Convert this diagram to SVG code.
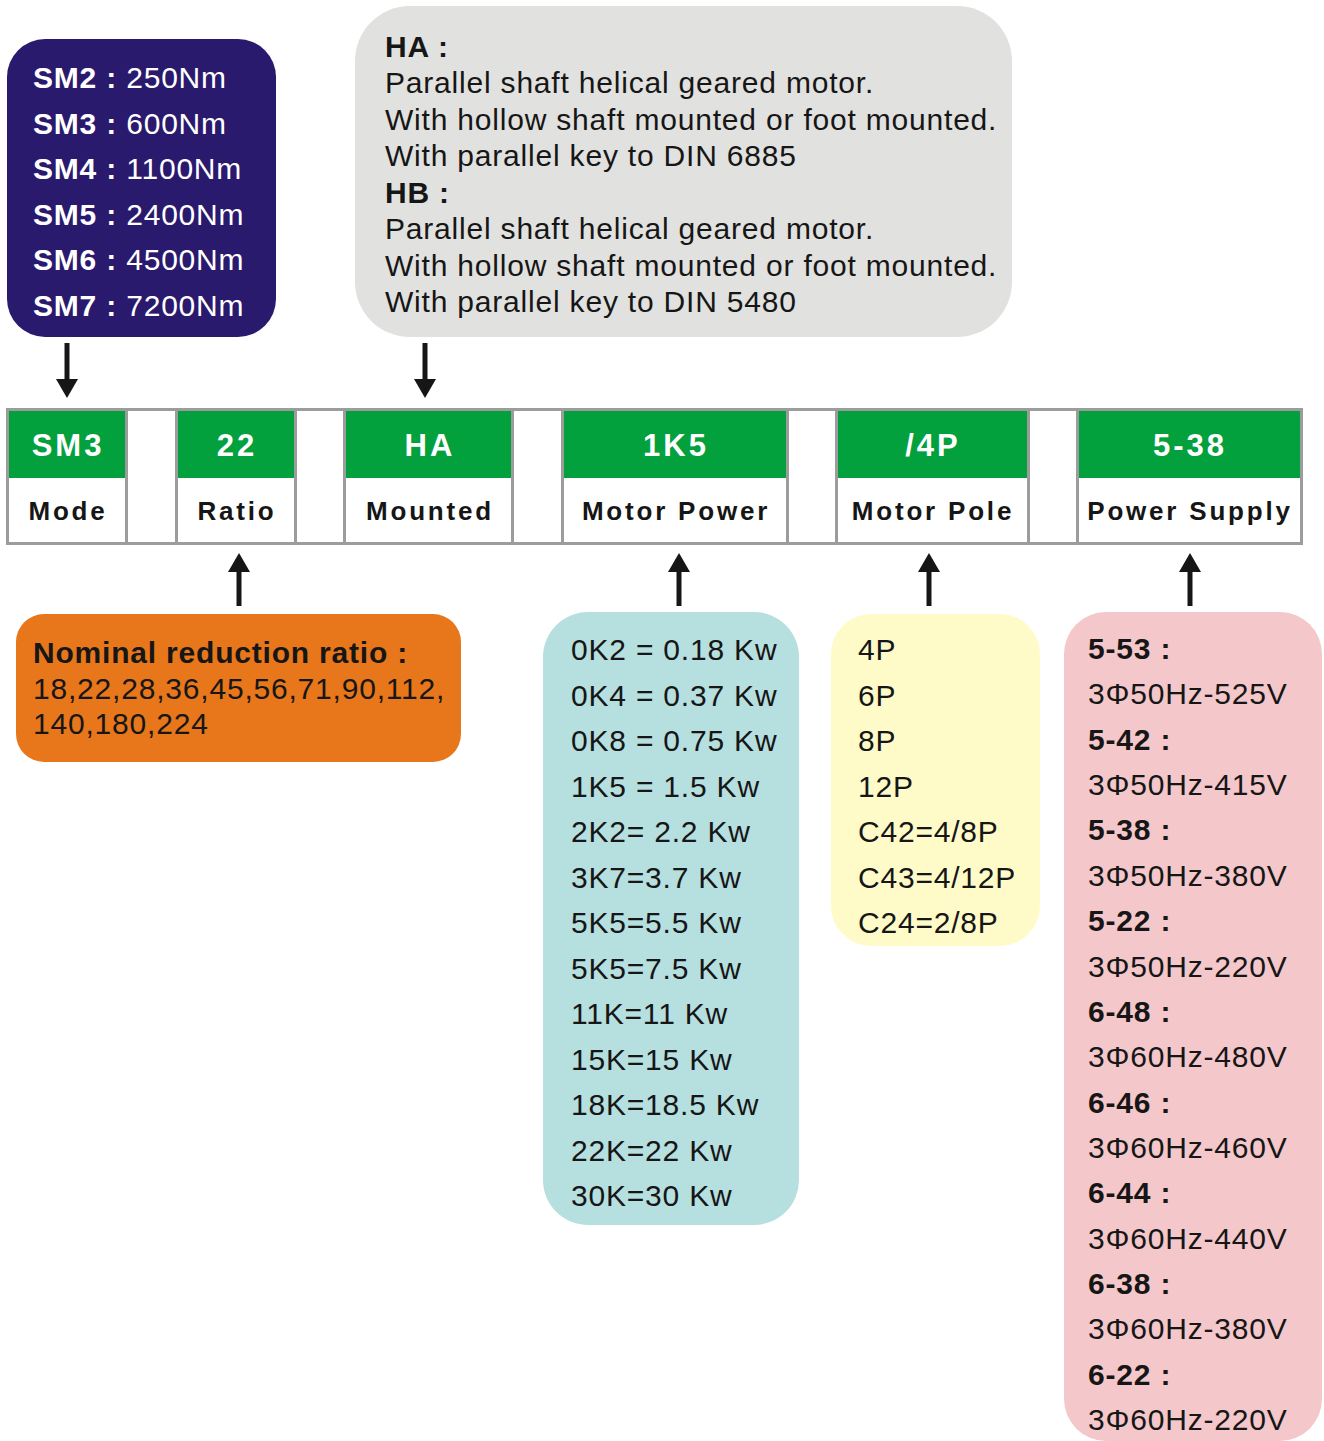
<svg xmlns="http://www.w3.org/2000/svg" width="1324" height="1441" viewBox="0 0 1324 1441">
<style>
text{font-family:"Liberation Sans",Arial,sans-serif;fill:#161616;font-size:30px;letter-spacing:0.8px}
.b{font-weight:bold}
.w{fill:#ffffff}
.hd{font-weight:bold;fill:#ffffff;font-size:31px;text-anchor:middle;letter-spacing:3px}
.lb{font-weight:bold;font-size:26px;text-anchor:middle;letter-spacing:2.8px}
.cell{fill:#ffffff;stroke:#9c9c9c;stroke-width:3}
.grn{fill:#03a03e}
.conn{stroke:#161616;stroke-width:5;fill:none}
</style>
<defs>
<marker id="ah" markerUnits="userSpaceOnUse" markerWidth="20" markerHeight="22" refX="0" refY="11" orient="auto" viewBox="0 0 20 22">
<path d="M0,0 L19,11 L0,22 Z" fill="#161616"/>
</marker>
</defs>
<rect width="1324" height="1441" fill="#ffffff"/>

<g id="node-models">
<rect x="7" y="39" width="269" height="298" rx="38" fill="#2a1a6d"/>
<text x="33" y="88" class="w"><tspan class="b">SM2 : </tspan>250Nm</text>
<text x="33" y="133.5" class="w"><tspan class="b">SM3 : </tspan>600Nm</text>
<text x="33" y="179" class="w"><tspan class="b">SM4 : </tspan>1100Nm</text>
<text x="33" y="224.5" class="w"><tspan class="b">SM5 : </tspan>2400Nm</text>
<text x="33" y="270" class="w"><tspan class="b">SM6 : </tspan>4500Nm</text>
<text x="33" y="315.5" class="w"><tspan class="b">SM7 : </tspan>7200Nm</text>
</g>

<g id="node-mounting">
<rect x="355" y="6" width="657" height="331" rx="55" fill="#e1e1df"/>
<text x="385" y="57" class="b">HA :</text>
<text x="385" y="93">Parallel shaft helical geared motor.</text>
<text x="385" y="129.5">With hollow shaft mounted or foot mounted.</text>
<text x="385" y="166">With parallel key to DIN 6885</text>
<text x="385" y="202.5" class="b">HB :</text>
<text x="385" y="239">Parallel shaft helical geared motor.</text>
<text x="385" y="275.5">With hollow shaft mounted or foot mounted.</text>
<text x="385" y="312">With parallel key to DIN 5480</text>
</g>

<g id="node-code-bar">
<rect x="7.5" y="409.5" width="1294" height="134" fill="#ffffff" stroke="#9c9c9c" stroke-width="3"/>
</g>
<g id="node-mode">
<rect class="cell" x="7.5" y="409.5" width="119" height="134"/>
<rect class="grn" x="9" y="411" width="116" height="67"/>
<text x="68" y="456" class="hd">SM3</text>
<text x="68" y="520" class="lb">Mode</text>
</g>
<g id="node-ratio">
<rect class="cell" x="176.5" y="409.5" width="119" height="134"/>
<rect class="grn" x="178" y="411" width="116" height="67"/>
<text x="237" y="456" class="hd">22</text>
<text x="237" y="520" class="lb">Ratio</text>
</g>
<g id="node-mounted">
<rect class="cell" x="344.5" y="409.5" width="168" height="134"/>
<rect class="grn" x="346" y="411" width="165" height="67"/>
<text x="430" y="456" class="hd">HA</text>
<text x="430" y="520" class="lb">Mounted</text>
</g>
<g id="node-motor-power">
<rect class="cell" x="562.5" y="409.5" width="225" height="134"/>
<rect class="grn" x="564" y="411" width="222" height="67"/>
<text x="676" y="456" class="hd">1K5</text>
<text x="676" y="520" class="lb">Motor Power</text>
</g>
<g id="node-motor-pole">
<rect class="cell" x="836.5" y="409.5" width="192" height="134"/>
<rect class="grn" x="838" y="411" width="189" height="67"/>
<text x="933" y="456" class="hd">/4P</text>
<text x="933" y="520" class="lb">Motor Pole</text>
</g>
<g id="node-power-supply">
<rect class="cell" x="1077.5" y="409.5" width="224" height="134"/>
<rect class="grn" x="1079" y="411" width="221" height="67"/>
<text x="1190" y="456" class="hd">5-38</text>
<text x="1190" y="520" class="lb">Power Supply</text>
</g>

<g id="node-ratio-list">
<rect x="16" y="614" width="445" height="148" rx="28" fill="#e8771b"/>
<text x="33" y="663" class="b">Nominal reduction ratio :</text>
<text x="33" y="699">18,22,28,36,45,56,71,90,112,</text>
<text x="33" y="734">140,180,224</text>
</g>

<g id="node-power-list">
<rect x="543" y="612" width="256" height="613" rx="45" fill="#b6dfe0"/>
<text x="571" y="660">0K2 = 0.18 Kw</text>
<text x="571" y="705.5">0K4 = 0.37 Kw</text>
<text x="571" y="751">0K8 = 0.75 Kw</text>
<text x="571" y="796.5">1K5 = 1.5 Kw</text>
<text x="571" y="842">2K2= 2.2 Kw</text>
<text x="571" y="887.5">3K7=3.7 Kw</text>
<text x="571" y="933">5K5=5.5 Kw</text>
<text x="571" y="978.5">5K5=7.5 Kw</text>
<text x="571" y="1024">11K=11 Kw</text>
<text x="571" y="1069.5">15K=15 Kw</text>
<text x="571" y="1115">18K=18.5 Kw</text>
<text x="571" y="1160.5">22K=22 Kw</text>
<text x="571" y="1206">30K=30 Kw</text>
</g>

<g id="node-pole-list">
<rect x="831" y="614" width="209" height="332" rx="40" fill="#fefbc9"/>
<text x="858" y="660">4P</text>
<text x="858" y="705.5">6P</text>
<text x="858" y="751">8P</text>
<text x="858" y="796.5">12P</text>
<text x="858" y="842">C42=4/8P</text>
<text x="858" y="887.5">C43=4/12P</text>
<text x="858" y="933">C24=2/8P</text>
</g>

<g id="node-supply-list">
<rect x="1064" y="612" width="258" height="829" rx="42" fill="#f4c7ca"/>
<text x="1088" y="659" class="b">5-53 :</text>
<text x="1088" y="704.4">3Φ50Hz-525V</text>
<text x="1088" y="749.7" class="b">5-42 :</text>
<text x="1088" y="795.1">3Φ50Hz-415V</text>
<text x="1088" y="840.4" class="b">5-38 :</text>
<text x="1088" y="885.8">3Φ50Hz-380V</text>
<text x="1088" y="931.1" class="b">5-22 :</text>
<text x="1088" y="976.5">3Φ50Hz-220V</text>
<text x="1088" y="1021.8" class="b">6-48 :</text>
<text x="1088" y="1067.2">3Φ60Hz-480V</text>
<text x="1088" y="1112.5" class="b">6-46 :</text>
<text x="1088" y="1157.9">3Φ60Hz-460V</text>
<text x="1088" y="1203.2" class="b">6-44 :</text>
<text x="1088" y="1248.6">3Φ60Hz-440V</text>
<text x="1088" y="1293.9" class="b">6-38 :</text>
<text x="1088" y="1339.3">3Φ60Hz-380V</text>
<text x="1088" y="1384.6" class="b">6-22 :</text>
<text x="1088" y="1430">3Φ60Hz-220V</text>
</g>

<g id="connectors">
<line class="conn" x1="67" y1="343" x2="67" y2="379" marker-end="url(#ah)"/>
<line class="conn" x1="425" y1="343" x2="425" y2="379" marker-end="url(#ah)"/>
<line class="conn" x1="239" y1="606" x2="239" y2="572" marker-end="url(#ah)"/>
<line class="conn" x1="679" y1="606" x2="679" y2="572" marker-end="url(#ah)"/>
<line class="conn" x1="929" y1="606" x2="929" y2="572" marker-end="url(#ah)"/>
<line class="conn" x1="1190" y1="606" x2="1190" y2="572" marker-end="url(#ah)"/>
</g>
</svg>
